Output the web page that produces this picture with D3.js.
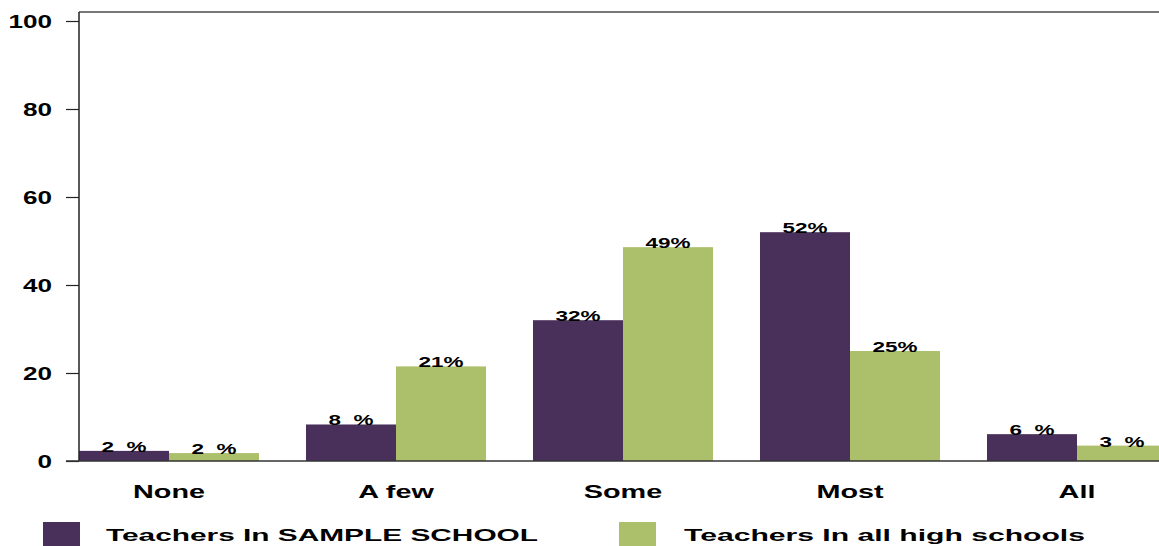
<!DOCTYPE html>
<html>
<head>
<meta charset="utf-8">
<script src="https://cdn.jsdelivr.net/npm/d3@7"></script>
<style>
  body { margin: 0; background: #fff; }
  svg { display: block; }
  text { font-family: "Liberation Sans", Arial, sans-serif; font-weight: bold; fill: #000; white-space: pre; }
</style>
</head>
<body>
<svg id="chart" width="1159" height="546"></svg>
<script>
const categories = ["None", "A few", "Some", "Most", "All"];
const seriesNames = ["Teachers In SAMPLE SCHOOL", "Teachers In all high schools"];
const sampleValues = [2.3, 8.3, 32, 52, 6.1];
const allValues = [1.8, 21.5, 48.6, 25, 3.5];
const sampleLabels = ["2  %", "8  %", "32%", "52%", "6  %"];
const allLabels = ["2  %", "21%", "49%", "25%", "3  %"];
const yTicks = [0, 20, 40, 60, 80, 100];
const colors = ["#48305a", "#acbf6a"];

const svg = d3.select("#chart");
const W = 1159, H = 546;
const plotLeft = 79, plotTop = 12;

const y = d3.scaleLinear().domain([0, 100]).range([461, 21]);
const x = d3.scaleBand().domain(categories)
  .range([55.5, 55.5 + 227 * 5]).paddingInner(0.207).paddingOuter(0.1035);
const xs = d3.scaleBand().domain([0, 1]).range([0, x.bandwidth()]);

function stext(g, tx, ty, str, size, sx, anchor) {
  return g.append("text")
    .attr("transform", `translate(${tx},${ty}) scale(${sx},1)`)
    .attr("text-anchor", anchor)
    .attr("font-size", size)
    .text(str);
}

svg.append("line").attr("x1", plotLeft).attr("x2", W).attr("y1", plotTop).attr("y2", plotTop)
  .attr("stroke", "#777").attr("stroke-width", 2);

const series = [sampleValues, allValues];
const labels = [sampleLabels, allLabels];
series.forEach((vals, s) => {
  svg.append("g").selectAll("rect").data(vals).join("rect")
    .attr("x", (d, i) => x(categories[i]) + xs(s))
    .attr("width", xs.bandwidth())
    .attr("y", d => y(d))
    .attr("height", d => y(0) - y(d))
    .attr("fill", colors[s]);
});
series.forEach((vals, s) => {
  const g = svg.append("g");
  vals.forEach((d, i) => {
    stext(g, x(categories[i]) + xs(s) + xs.bandwidth() / 2, y(d) + 1, labels[s][i], 15, 1.5, "middle");
  });
});

const yAxis = d3.axisLeft(y).tickValues(yTicks).tickSize(13).tickFormat("");
const ya = svg.append("g").attr("transform", `translate(${plotLeft},0)`).call(yAxis);
ya.selectAll("path").attr("d", `M0,${plotTop}V${y(0)}`).attr("stroke", "#222").attr("stroke-width", 1.5);
ya.selectAll("line").attr("stroke", "#222").attr("stroke-width", 1.2);
yTicks.forEach(t => stext(svg, 52, y(t) + 6.5, String(t), 18, 1.45, "end"));

svg.append("line").attr("x1", 66).attr("x2", W).attr("y1", y(0)).attr("y2", y(0))
  .attr("stroke", "#333").attr("stroke-width", 1.5);

const xAxis = d3.axisBottom(x).tickSize(0).tickFormat("");
svg.append("g").attr("transform", `translate(0,${y(0)})`).call(xAxis).select("path").remove();
categories.forEach(c => stext(svg, x(c) + x.bandwidth() / 2, 498, c, 18, 1.6, "middle"));

const legendX = [43, 619];
const legendTextX = [106, 684];
const legendTextW = [432, 401];
seriesNames.forEach((n, s) => {
  svg.append("rect").attr("x", legendX[s]).attr("y", 522).attr("width", 37).attr("height", 24).attr("fill", colors[s]);
  svg.append("text").attr("x", legendTextX[s]).attr("y", 541).attr("font-size", 17)
    .attr("textLength", legendTextW[s]).attr("lengthAdjust", "spacingAndGlyphs").text(n);
});
</script>
</body>
</html>
